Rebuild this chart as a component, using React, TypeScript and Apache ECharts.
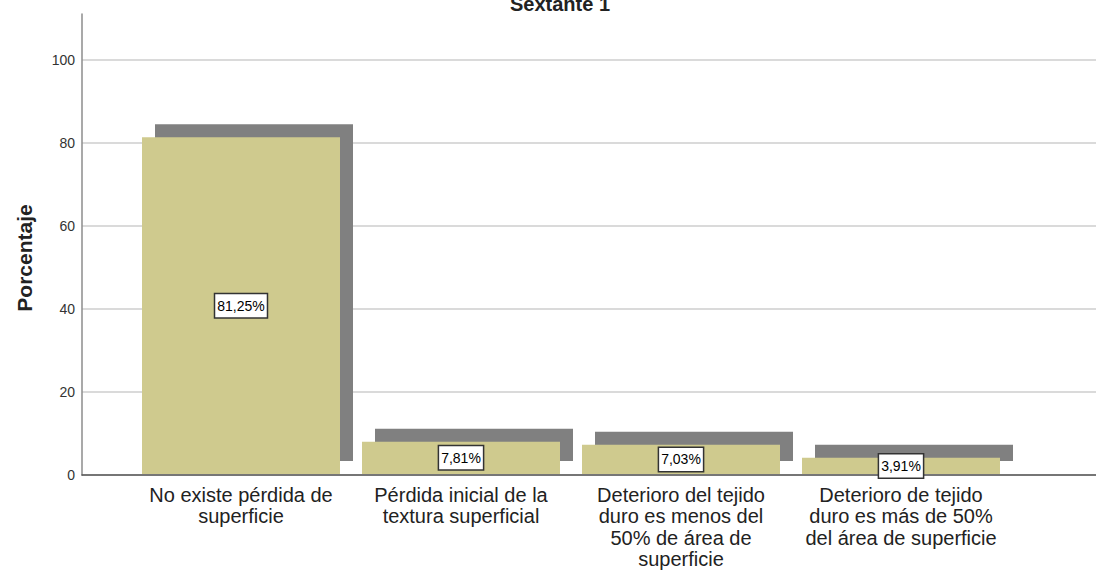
import React, { useEffect, useRef } from "react";
import * as echarts from "echarts";

const title = "Sextante 1";
const yAxisName = "Porcentaje";
const categories = [
  "No existe pérdida de\nsuperficie",
  "Pérdida inicial de la\ntextura superficial",
  "Deterioro del tejido\nduro es menos del\n50% de área de\nsuperficie",
  "Deterioro de tejido\nduro es más de 50%\ndel área de superficie",
];
const percentages = [81.25, 7.81, 7.03, 3.91];
const yTicks = [0, 20, 40, 60, 80, 100];

const FONT = "'Liberation Sans', Arial, sans-serif";
const BAR_COLOR = "#cfca8e";
const SHADOW_COLOR = "#808080";
const BAR_RATIO = 0.9;
const SHADOW_DX = 13;
const SHADOW_DY = 13;

export default function App() {
  const ref = useRef<HTMLDivElement>(null);
  useEffect(() => {
    if (!ref.current) return;
    const chart = echarts.init(ref.current, undefined, { renderer: "svg" });
    const yMax = 111;
    const option: any = {
      animation: false,
      backgroundColor: "#ffffff",
      title: {
        text: title,
        left: 555,
        textAlign: "center",
        top: -11,
        textStyle: { fontFamily: FONT, fontSize: 20, fontWeight: "bold", color: "#222" },
      },
      graphic: [
        {
          type: "text",
          x: 24,
          y: 258,
          rotation: Math.PI / 2,
          style: {
            text: yAxisName,
            fontFamily: FONT,
            fontSize: 21,
            fontWeight: "bold",
            fill: "#222",
            align: "center",
            verticalAlign: "middle",
          },
        },
      ],
      grid: [
        { left: 82, right: 0, top: 14, bottom: 95 },
        { left: 131, right: 85, top: 14, bottom: 95 },
      ],
      xAxis: [
        {
          gridIndex: 0,
          type: "value",
          min: 0,
          max: 1,
          axisLine: { show: true, lineStyle: { color: "#555", width: 1.5 } },
          axisTick: { show: false },
          axisLabel: { show: false },
          splitLine: { show: false },
        },
        {
          gridIndex: 1,
          type: "category",
          data: categories,
          axisLine: { show: false },
          axisTick: { show: false },
          axisLabel: {
            interval: 0,
            margin: 10,
            fontFamily: FONT,
            fontSize: 20,
            lineHeight: 21.5,
            color: "#222",
            align: "center",
          },
        },
      ],
      yAxis: [
        {
          gridIndex: 0,
          type: "value",
          min: 0,
          max: yMax,
          interval: 20,
          axisLine: { show: true, lineStyle: { color: "#8c8c8c", width: 1.5 } },
          axisTick: { show: false },
          axisLabel: {
            showMaxLabel: false,
            margin: 7,
            fontFamily: FONT,
            fontSize: 14,
            color: "#333",
            formatter: (v: number) => (yTicks.includes(v) ? String(v) : ""),
          },
          splitLine: { show: true, showMaxLine: false, lineStyle: { color: "#dadada", width: 2 } },
        },
        {
          gridIndex: 1,
          type: "value",
          min: 0,
          max: yMax,
          show: false,
          splitLine: { show: false },
        },
      ],
      series: [
        {
          type: "custom",
          xAxisIndex: 1,
          yAxisIndex: 1,
          z: 1,
          data: percentages.map((v, i) => [i, v]),
          encode: { x: 0, y: 1 },
          renderItem: (params: any, api: any) => {
            const idx = api.value(0);
            const v = api.value(1);
            const top = api.coord([idx, v]);
            const base = api.coord([idx, 0]);
            const w = api.size([1, 0])[0] * BAR_RATIO;
            return {
              type: "rect",
              shape: {
                x: top[0] - w / 2 + SHADOW_DX,
                y: top[1] - SHADOW_DY,
                width: w,
                height: base[1] - top[1],
              },
              style: { fill: SHADOW_COLOR },
            };
          },
        },
        {
          type: "bar",
          xAxisIndex: 1,
          yAxisIndex: 1,
          z: 2,
          barWidth: BAR_RATIO * 100 + "%",
          data: percentages,
          itemStyle: { color: BAR_COLOR },
          label: {
            show: true,
            position: "inside",
            fontFamily: FONT,
            fontSize: 14,
            color: "#000",
            backgroundColor: "#fff",
            borderColor: "#333",
            borderWidth: 1.5,
            padding: [5, 2, 4, 2],
            formatter: (p: any) => p.value.toFixed(2).replace(".", ",") + "%",
          },
        },
      ],
    };
    chart.setOption(option);
    return () => chart.dispose();
  }, []);
  return (
    <div
      ref={ref}
      style={{ position: "fixed", left: 0, top: 0, width: 1096, height: 570 }}
    />
  );
}
